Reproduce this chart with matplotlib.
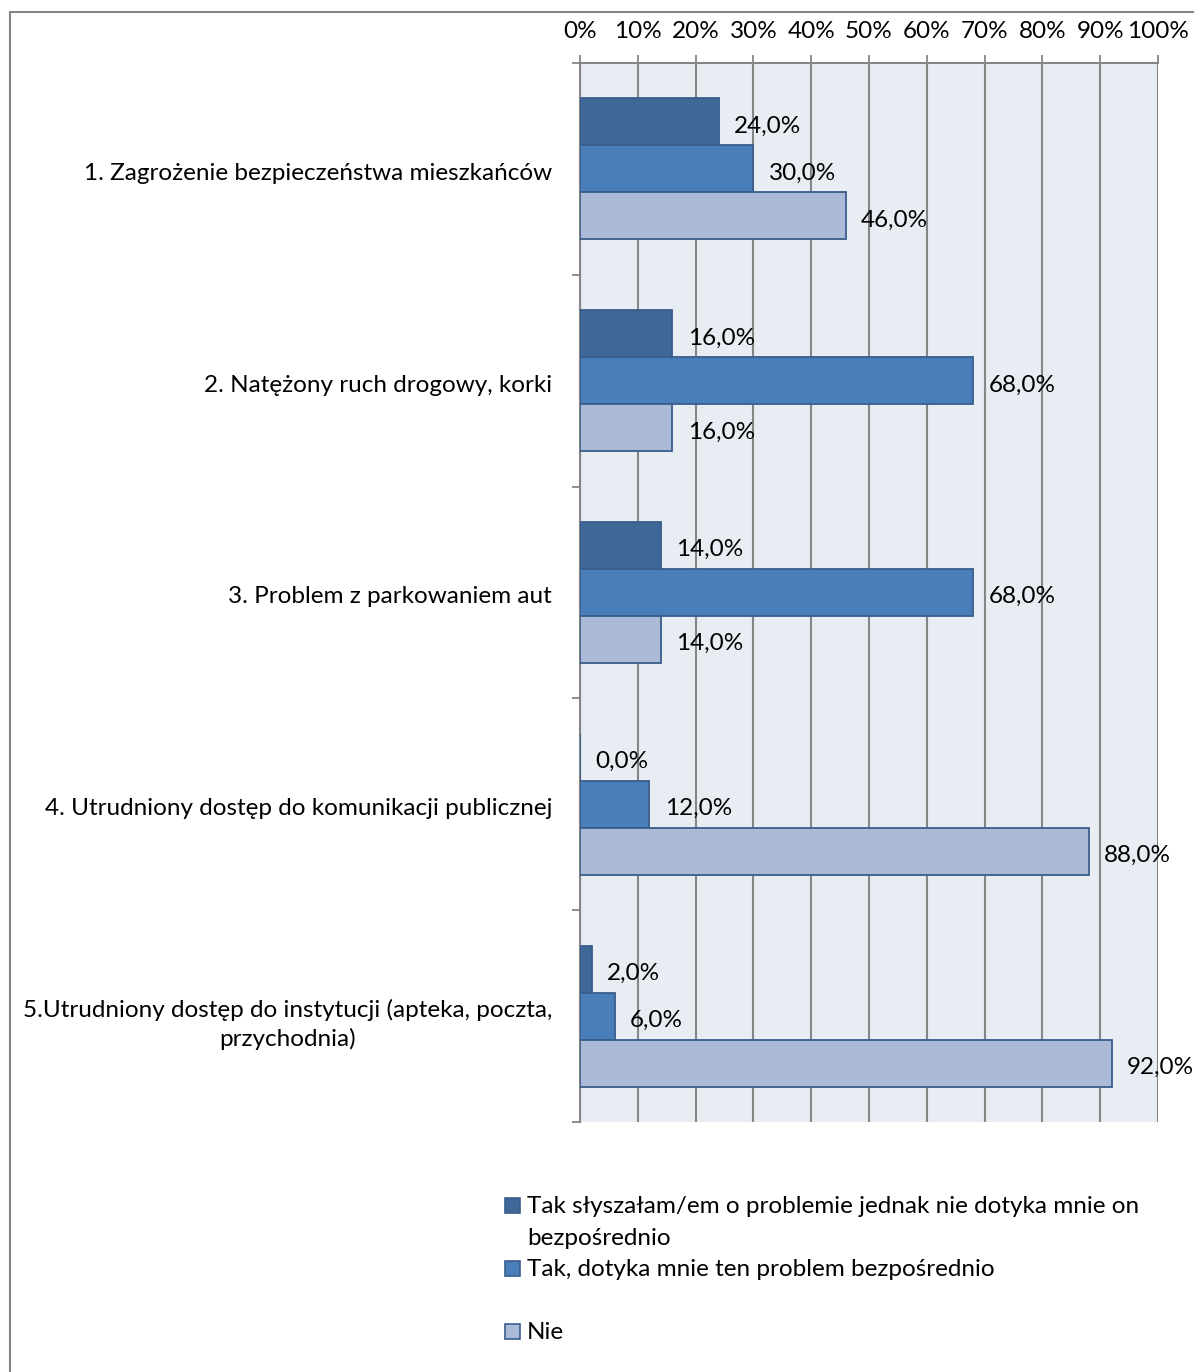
import matplotlib
matplotlib.use("Agg")
import matplotlib.pyplot as plt
from matplotlib.patches import Rectangle
from matplotlib.transforms import ScaledTranslation
import numpy as np

plt.rcParams['font.family'] = ['Lato', 'DejaVu Sans']

categories = [
    "1. Zagrożenie bezpieczeństwa mieszkańców",
    "2. Natężony ruch drogowy, korki",
    "3. Problem z parkowaniem aut",
    "4. Utrudniony dostęp do komunikacji publicznej",
    "5.Utrudniony dostęp do instytucji (apteka, poczta,\nprzychodnia)",
]
series_names = [
    "Tak słyszałam/em o problemie jednak nie dotyka mnie on\nbezpośrednio",
    "Tak, dotyka mnie ten problem bezpośrednio",
    "Nie",
]
heard = [24.0, 16.0, 14.0, 0.0, 2.0]
affected = [30.0, 68.0, 68.0, 12.0, 6.0]
no = [46.0, 16.0, 14.0, 88.0, 92.0]
series_values = [heard, affected, no]
xticks = list(range(0, 101, 10))
xtick_labels = [f"{t}%" for t in xticks]

fills = ["#3F6899", "#4A7EBB", "#AABAD7"]
edges = ["#385D8A", "#385D8A", "#385D8A"]

FS = 17.5
W, H = 1194, 1372
fig = plt.figure(figsize=(W / 100, H / 100), dpi=100)
fig.patch.set_facecolor("white")

# outer chart frame
fig.patches.append(Rectangle((10 / W, -0.05), 1.2, 1 - 12 / H + 0.05,
                             transform=fig.transFigure, fill=False,
                             edgecolor="#868686", linewidth=1.5))

ax = fig.add_axes([580 / W, 1 - 1122 / H, (1158 - 580) / W, (1122 - 63) / H])
ax.set_facecolor("#E8ECF3")

n = len(categories)
bh = 0.222
y = np.arange(n)
for i, (vals, fc, ec) in enumerate(zip(series_values, fills, edges)):
    pos = y + (i - 1) * bh
    bars = ax.barh(pos, vals, height=bh, color=fc, edgecolor=ec, linewidth=1.3, zorder=3)
    for b, v in zip(bars, vals):
        ax.annotate(f"{v:.1f}".replace(".", ",") + "%",
                    xy=(b.get_width(), b.get_y() + b.get_height() / 2),
                    xytext=(11, -3), textcoords="offset points",
                    ha="left", va="center", fontsize=FS, color="black", zorder=5)

ax.set_xlim(0, 100)
ax.set_ylim(n - 0.5, -0.5)
ax.xaxis.tick_top()
ax.set_xticks(xticks)
ax.set_xticklabels(xtick_labels, fontsize=FS)
ax.tick_params(axis="x", length=6, width=1.3, color="#868686", pad=9)
ax.grid(axis="x", color="#868686", linewidth=1.5, zorder=1)

ax.set_yticks(np.arange(n + 1) - 0.5, minor=True)
ax.set_yticks(y)
ax.set_yticklabels(categories, fontsize=FS, multialignment="center", linespacing=1.42)
ax.tick_params(axis="y", which="major", length=0, pad=20)
ax.tick_params(axis="y", which="minor", length=6, width=1.3, color="#868686")
shift = ScaledTranslation(0, -2.5 / 100, fig.dpi_scale_trans)
for lab in ax.get_yticklabels():
    lab.set_transform(lab.get_transform() + shift)

for s in ["right", "bottom"]:
    ax.spines[s].set_visible(False)
for s in ["left", "top"]:
    ax.spines[s].set_color("#868686")
    ax.spines[s].set_linewidth(1.5)

# legend
leg_x = 505
leg_items = [(1205, series_names[0]), (1268, series_names[1]), (1331, series_names[2])]
for (yy, label), fc, ec in zip(leg_items, fills, edges):
    fig.patches.append(Rectangle(((leg_x) / W, 1 - (yy + 8) / H), 15 / W, 15 / H,
                                 transform=fig.transFigure, facecolor=fc,
                                 edgecolor=ec, linewidth=1.2))
    for k, line in enumerate(label.split("\n")):
        fig.text((leg_x + 22) / W, 1 - (yy + 8 + 32 * k) / H, line, fontsize=FS,
                 ha="left", va="baseline")

fig.savefig("out.png", dpi=100)
